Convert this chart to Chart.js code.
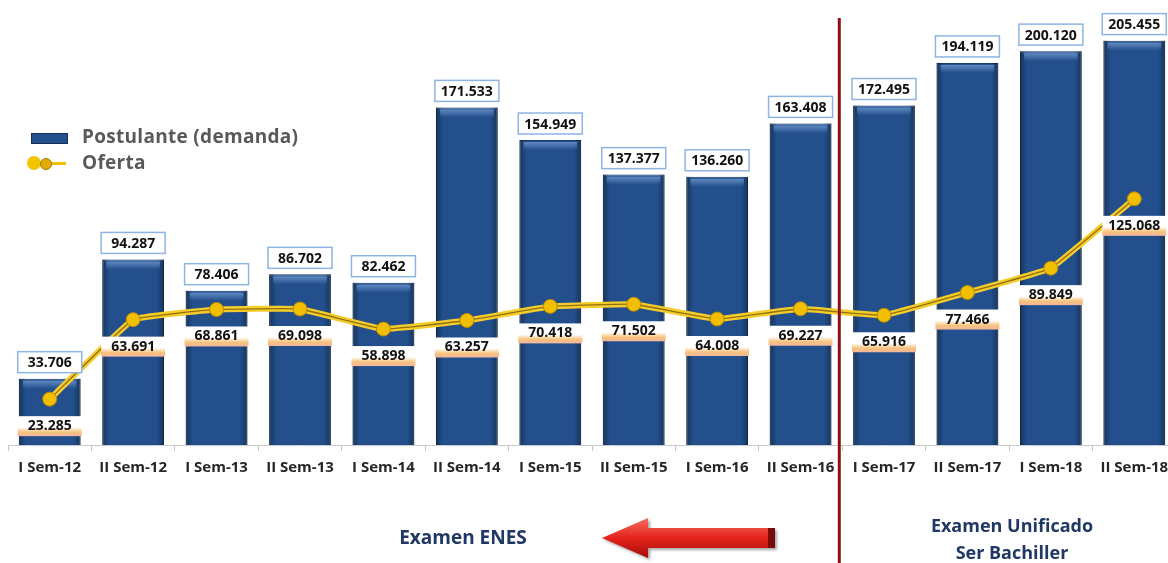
<!DOCTYPE html>
<html>
<head>
<meta charset="utf-8">
<script src="https://cdn.jsdelivr.net/npm/chart.js@4.4.0/dist/chart.umd.min.js"></script>
<style>
html, body { margin: 0; padding: 0; background: #fff; overflow: hidden; width: 1168px; height: 563px; }
#wrap { position: relative; width: 1184px; height: 563px; }
#myChart { position: absolute; left: 0; top: 0; }
.txt { position: absolute; font-family: "Open Sans", sans-serif; font-weight: 700; white-space: nowrap; }
.ctr { transform: translate(-50%, -50%); color: #1F3864; }
</style>
</head>
<body>
<div id="wrap">
  <canvas id="myChart" width="1184" height="563" style="width:1184px;height:563px"></canvas>

  <!-- leyenda -->
  <div style="position:absolute;left:31px;top:133px;width:35px;height:9px;background:#23508D;border:1px solid #142f5a"></div>
  <div class="txt" style="left:82px;top:123px;font-size:19px;color:#595959;letter-spacing:0.3px">Postulante (demanda)</div>
  <div style="position:absolute;left:40px;top:162px;width:26px;height:3px;background:#F2C200"></div>
  <div style="position:absolute;left:27px;top:156px;width:14px;height:14px;border-radius:50%;background:#F5C400"></div>
  <div style="position:absolute;left:40px;top:158px;width:10px;height:10px;border-radius:50%;background:#E0AE00;border:1px solid #9c7800"></div>
  <div class="txt" style="left:82px;top:149px;font-size:19px;color:#595959;letter-spacing:0.3px">Oferta</div>

  <!-- notas inferiores -->
  <div class="txt ctr" style="left:463px;top:537px;font-size:19px">Examen ENES</div>
  <div class="txt ctr" style="left:1012px;top:525px;font-size:18px">Examen Unificado</div>
  <div class="txt ctr" style="left:1012px;top:552px;font-size:18px">Ser Bachiller</div>
</div>

<script>
var categorias = ['I Sem-12', 'II Sem-12', 'I Sem-13', 'II Sem-13', 'I Sem-14', 'II Sem-14', 'I Sem-15',
                  'II Sem-15', 'I Sem-16', 'II Sem-16', 'I Sem-17', 'II Sem-17', 'I Sem-18', 'II Sem-18'];
var postulantes = [33706, 94287, 78406, 86702, 82462, 171533, 154949, 137377, 136260, 163408, 172495, 194119, 200120, 205455];
var oferta = [23285, 63691, 68861, 69098, 58898, 63257, 70418, 71502, 64008, 69227, 65916, 77466, 89849, 125068];

// separador de miles con punto
function fmt(n) {
    return String(n).replace(/\B(?=(\d{3})+(?!\d))/g, '.');
}

var ctx = document.getElementById('myChart').getContext('2d');

var cajas = {
    id: 'cajas',
    afterDatasetDraw: function(chart, args) {
        if (args.index !== 0) return;
        var c = chart.ctx;
        // sombreado de las barras
        chart.getDatasetMeta(0).data.forEach(function(b) {
            var l = b.x - b.width / 2, r = b.x + b.width / 2;
            var g = c.createLinearGradient(l, 0, r, 0);
            g.addColorStop(0, 'rgba(0,0,0,0.35)');
            g.addColorStop(0.12, 'rgba(0,0,0,0)');
            g.addColorStop(0.88, 'rgba(0,0,0,0)');
            g.addColorStop(1, 'rgba(0,0,0,0.35)');
            c.fillStyle = g;
            c.fillRect(l, b.y, b.width, b.base - b.y);
            var g2 = c.createLinearGradient(0, b.y, 0, b.y + 10);
            g2.addColorStop(0, 'rgba(120,160,215,0.9)');
            g2.addColorStop(1, 'rgba(120,160,215,0)');
            c.fillStyle = g2;
            c.fillRect(l + 4, b.y + 2, b.width - 8, 8);
        });
    },
    afterDatasetsDraw: function(chart) {
        var c = chart.ctx;
        c.save();
        c.font = '700 14px "Open Sans"';
        c.textAlign = 'center';
        c.textBaseline = 'middle';
        chart.getDatasetMeta(0).data.forEach(function(b, i) {
            var w = 64, h = 21, x = b.x - w / 2, y = b.y - 6 - h;
            c.fillStyle = '#fff';
            c.fillRect(x, y, w, h);
            c.strokeStyle = '#8EB4E3';
            c.lineWidth = 1.5;
            c.strokeRect(x, y, w, h);
            c.fillStyle = '#111';
            c.fillText(fmt(postulantes[i]), b.x, y + h / 2 + 1);
        });
        chart.getDatasetMeta(3).data.forEach(function(p, i) {
            var w = 64, h = 20, x = p.x - w / 2, y = p.y + 27 - h / 2;
            var g = c.createLinearGradient(0, y, 0, y + h);
            g.addColorStop(0, '#ffffff');
            g.addColorStop(0.55, '#ffffff');
            g.addColorStop(0.8, '#F7C27A');
            g.addColorStop(1, '#F3B6A0');
            c.fillStyle = g;
            c.fillRect(x, y, w, h);
            c.fillStyle = '#111';
            c.fillText(fmt(oferta[i]), p.x, y + h / 2);
        });
        c.restore();
    },
    afterDraw: function(chart) {
        var c = chart.ctx, xs = chart.scales.x;
        var lx = (xs.getPixelForValue(9) + xs.getPixelForValue(10)) / 2 - 3;
        c.save();
        c.fillStyle = '#8B0F14';
        c.fillRect(lx - 1.5, 18, 3, chart.height - 18);
        // flecha roja
        var g = c.createLinearGradient(0, 519, 0, 557);
        g.addColorStop(0, '#F46B5C');
        g.addColorStop(0.5, '#E5231B');
        g.addColorStop(1, '#A80F0B');
        c.beginPath();
        c.moveTo(602, 538);
        c.lineTo(648, 518);
        c.lineTo(648, 528);
        c.lineTo(775, 528);
        c.lineTo(775, 548);
        c.lineTo(648, 548);
        c.lineTo(648, 558);
        c.closePath();
        c.shadowColor = 'rgba(0,0,0,0.35)';
        c.shadowOffsetX = 2;
        c.shadowOffsetY = 2;
        c.shadowBlur = 3;
        c.fillStyle = g;
        c.fill();
        c.shadowColor = 'transparent';
        c.fillStyle = '#7A0A08';
        c.fillRect(768, 528, 7, 20);
        c.restore();
    }
};

var myChart = new Chart(ctx, {
    type: 'bar',
    data: {
        labels: categorias,
        datasets: [{
            type: 'bar',
            label: 'Postulante (demanda)',
            data: postulantes,
            backgroundColor: '#23508D',
            borderColor: '#173B6C',
            borderWidth: 1,
            barPercentage: 0.74,
            categoryPercentage: 1,
            order: 5
        }, {
            type: 'line',
            label: 'Oferta',
            data: oferta,
            borderColor: '#F5CC2A',
            borderWidth: 6,
            tension: 0.08,
            pointRadius: 0,
            fill: false,
            order: 4
        }, {
            type: 'line',
            label: 'Oferta-centro',
            data: oferta,
            borderColor: '#8F7210',
            borderWidth: 1.3,
            tension: 0.08,
            pointRadius: 0,
            fill: false,
            order: 3
        }, {
            type: 'line',
            label: 'Oferta-puntos',
            data: oferta,
            showLine: false,
            pointRadius: 7,
            pointBackgroundColor: '#F2BF00',
            pointBorderColor: '#B88A00',
            pointBorderWidth: 1,
            order: 2
        }]
    },
    options: {
        responsive: false,
        animation: false,
        maintainAspectRatio: false,
        layout: { padding: { top: 12, left: 6, right: 6, bottom: 0 } },
        plugins: {
            legend: { display: false },
            tooltip: { enabled: false }
        },
        scales: {
            x: {
                offset: true,
                grid: { display: true, offset: true, drawOnChartArea: false, tickLength: 6, color: '#C8C8C8' },
                border: { display: true, color: '#C8C8C8' },
                ticks: {
                    font: { family: '"Open Sans"', size: 15, weight: 'bold' },
                    color: '#262626',
                    padding: 8,
                    maxRotation: 0,
                    autoSkip: false
                },
                afterFit: function(s) { s.height = 118; }
            },
            y: {
                display: false,
                min: 0,
                max: 220000
            }
        }
    },
    plugins: [cajas]
});
</script>
</body>
</html>
